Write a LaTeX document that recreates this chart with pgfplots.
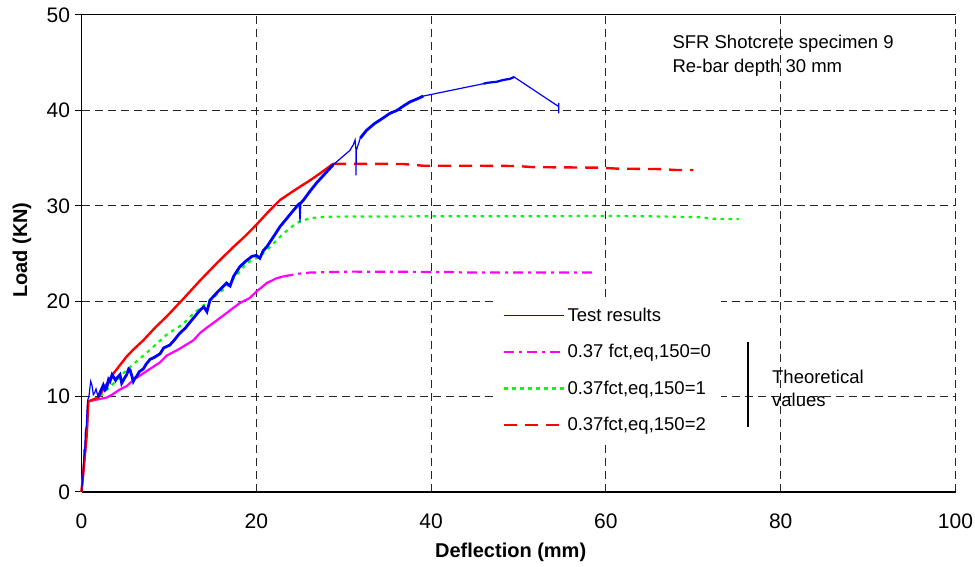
\documentclass[border=0pt]{standalone}
\usepackage{pgfplots}
\pgfplotsset{compat=1.18}
\usepackage{fontspec}
\setmainfont{Liberation Sans}
\definecolor{tblue}{RGB}{0,0,255}
\definecolor{tmag}{RGB}{255,0,255}
\definecolor{tgreen}{RGB}{0,255,0}
\definecolor{tred}{RGB}{255,0,0}
\begin{document}
\begin{tikzpicture}[x=1pt,y=1pt]
\useasboundingbox (0,0) rectangle (975,567);
\begin{axis}[
  at={(81.5pt,75pt)}, anchor=south west,
  scale only axis, width=874pt, height=477pt,
  xmin=0, xmax=100, ymin=0, ymax=50,
  xtick={0,20,...,100}, ytick={0,10,...,50},
  axis x line*=bottom, axis y line*=left,
  axis line style={line width=1.4pt, -},
  grid=major,
  major grid style={black!85, line width=1pt, dash pattern=on 8pt off 5pt},
  y tick style={black, line width=1pt},
  x tick style={draw=none},
  tick align=outside, major tick length=6pt,
  /pgf/number format/assume math mode=true,
  ticklabel style={font=\fontsize{21}{24}\selectfont},
  xticklabel style={yshift=-12pt},
  yticklabel style={xshift=-2pt},
  xlabel={Deflection (mm)}, ylabel={Load (KN)},
  label style={font=\bfseries\fontsize{20}{24}\selectfont},
  xlabel style={at={(axis description cs:0.491,-0.126)}, anchor=center},
  ylabel style={at={(axis description cs:-0.068,0.507)}, anchor=center, rotate=0},
  legend style={at={(axis cs:47.3,20.44)}, anchor=north west, draw=none, fill=white,
    font=\fontsize{18.5}{22}\selectfont, row sep=17.5pt, inner xsep=8pt, inner ysep=9pt},
  legend cell align=left,
  legend image code/.code={\draw[#1] (0pt,0pt) -- (60pt,0pt);},
  /tikz/every even column/.append style={column sep=9pt},
  clip=false,
]
% magenta (=0)
\addplot[tmag, line width=2.2pt, forget plot] coordinates {
(0,0) (0.3,3) (0.6,6.1) (0.78,9.5) (2.88,9.9) (3.5,10.2) (4.3,10.7) (5.17,11.1) (6.0,11.8) (7,12.4) (8.0,13.0) (9.0,13.6) (9.75,14.3) (11.2,15.0) (12.8,15.9) (13.6,16.7) (14.3,17.2) (15.5,18.0) (16.8,18.9) (18.1,19.8) (19.2,20.3) (20.0,21.0) (21.2,21.9) (22.3,22.4) (23.1,22.6)};
\addplot[tmag, line width=2.2pt, dash pattern=on 10pt off 5pt on 3pt off 5pt, forget plot] coordinates {
(23.1,22.6) (25,22.9) (26.1,23.0) (30.7,23.1) (42.2,23.06) (44,23.0) (58.6,23.0)};
% green (=1)
\addplot[tgreen, line width=2.2pt, dash pattern=on 3.5pt off 4.5pt, forget plot] coordinates {
(0,0) (0.3,3) (0.6,6.1) (0.78,9.5) (1.93,9.9) (3.26,11.0) (5.17,12.8) (7.84,14.9) (9.75,16.5) (11.6,17.6) (12.8,18.7) (14.7,20.1) (16.6,21.5) (17.8,22.8) (18.9,24.0) (20.4,24.7) (21.8,25.9) (23.1,27.1) (24.6,28.2) (26.1,28.7) (28.0,28.86) (40,28.9) (50,28.9) (59.7,28.93) (65,28.9) (71.1,28.8) (72,28.65) (75.2,28.6)};
% red (=2)
\addplot[tred, line width=2.4pt, forget plot] coordinates {
(0,0) (0.3,3) (0.6,6.1) (0.78,9.5) (1.93,9.9) (2.8,11.2) (3.64,12.4) (4.4,13.3) (5.17,14.2) (5.9,14.9) (7.07,15.9) (8.5,17.3) (9.75,18.4) (11.7,20.3) (13.6,22.2) (15.5,24.0) (17.4,25.7) (18.7,26.8) (20.0,28.0) (21.3,29.3) (22.7,30.6) (24.0,31.4) (25.0,32.0) (26.2,32.7) (27.3,33.4) (28.2,34.0) (28.8,34.4)};
\addplot[tred, line width=2.4pt, dash pattern=on 13pt off 8pt, forget plot] coordinates {
(28.8,34.4) (32,34.4) (36.8,34.38) (39.1,34.2) (45,34.2) (49.8,34.17) (51.7,34.05) (59,34.0) (61.2,33.9) (66,33.85) (68.1,33.75) (70.0,33.75)};
% test results
\addplot[tblue, line width=1.2pt, forget plot] coordinates {
(0,0) (0.2,2) (0.3,4.5) (0.35,3.8) (0.45,6.5) (0.55,6.8) (0.6,7.9) (0.7,9.6) (0.85,10.0) (1.05,11.6) (1.2,11.2) (1.35,10.2) (1.5,10.4) (1.66,10.8) (1.8,10.3) (1.93,10.0) (2.2,10.6) (2.5,11.2) (2.7,10.7) (2.88,10.9) (3.1,11.8) (3.26,11.6) (3.5,12.3) (3.64,12.1) (3.9,11.7) (4.1,12.0) (4.4,12.3) (4.6,11.4) (4.9,11.9) (5.17,12.3) (5.4,12.9) (5.55,12.8) (5.75,12.2) (5.93,11.6) (6.1,11.9) (6.3,12.1) (6.6,12.6) (7.07,12.9) (7.4,13.4) (7.84,13.9) (8.3,14.1) (9.0,14.5) (9.4,15.1) (10.1,15.4) (10.6,15.9) (11.2,16.6) (11.9,17.2) (12.6,18.0) (13.6,19.1) (14.0,19.4) (14.35,18.9) (14.7,20.1) (15.6,21.0) (16.6,21.9) (17.0,21.6) (17.4,22.6) (18.1,23.6) (18.8,24.2) (19.5,24.7) (20.0,24.8) (20.4,24.5) (20.8,25.3) (21.2,25.7) (22.0,26.8) (22.7,27.8) (23.6,28.8) (24.6,29.9) (24.9,30.2) (25.0,28.3) (25.1,30.3) (25.4,30.6) (26.2,31.6) (26.9,32.4) (27.7,33.2) (28.4,33.9) (28.8,34.3) (30.7,35.8) (31.1,36.4) (31.3,36.9) (31.4,35.9) (31.4,33.2) (31.45,35.8) (31.9,37.1) (32.6,37.9) (33.5,38.6) (34.5,39.2) (35.3,39.7) (36.1,40.0) (36.9,40.5) (37.6,40.9) (38.4,41.2) (39.1,41.5) (46.0,42.8) (46.5,42.9) (47.5,43.0) (48.3,43.2) (49.0,43.3) (49.5,43.5) (54.6,40.4) (54.6,40.8) (54.6,39.7)};
\addplot[tblue, line width=2.8pt, forget plot] coordinates {
(1.93,10.0) (2.2,10.6) (2.5,11.2) (2.7,10.7) (2.88,10.9) (3.1,11.8) (3.26,11.6) (3.5,12.3) (3.64,12.1) (3.9,11.7) (4.1,12.0) (4.4,12.3) (4.6,11.4) (4.9,11.9) (5.17,12.3) (5.4,12.9) (5.55,12.8) (5.75,12.2) (5.93,11.6) (6.1,11.9) (6.3,12.1) (6.6,12.6) (7.07,12.9) (7.4,13.4) (7.84,13.9) (8.3,14.1) (9.0,14.5) (9.4,15.1) (10.1,15.4) (10.6,15.9) (11.2,16.6) (11.9,17.2) (12.6,18.0) (13.6,19.1) (14.0,19.4) (14.35,18.9) (14.7,20.1) (15.6,21.0) (16.6,21.9) (17.0,21.6) (17.4,22.6) (18.1,23.6) (18.8,24.2) (19.5,24.7) (20.0,24.8) (20.4,24.5) (20.8,25.3) (21.2,25.7) (22.0,26.8) (22.7,27.8) (23.6,28.8) (24.6,29.9) (24.9,30.2) (25.1,30.3) (25.4,30.6) (26.2,31.6) (26.9,32.4) (27.7,33.2) (28.4,33.9) (28.8,34.3)};
\addplot[tblue, line width=2.8pt, forget plot] coordinates {
(31.9,37.1) (32.6,37.9) (33.5,38.6) (34.5,39.2) (35.3,39.7) (36.1,40.0) (36.9,40.5) (37.6,40.9) (38.4,41.2) (39.1,41.5)};
\addplot[tblue, line width=2.2pt, forget plot] coordinates {
(46.0,42.8) (46.5,42.9) (47.5,43.0) (48.3,43.2) (49.0,43.3) (49.5,43.5)};
% legend
\addlegendimage{tblue, line width=1.6pt}
\addlegendentry{Test results}
\addlegendimage{tmag, line width=2.4pt, dash pattern=on 10pt off 5pt on 3pt off 5pt}
\addlegendentry{0.37 fct,eq,150=0}
\addlegendimage{tgreen, line width=2.4pt, dash pattern=on 3.5pt off 4.5pt}
\addlegendentry{0.37fct,eq,150=1}
\addlegendimage{tred, line width=2.4pt, dash pattern=on 13pt off 8pt}
\addlegendentry{0.37fct,eq,150=2}
% top frame line
\draw[black, line width=1pt] (rel axis cs:0,1) -- (rel axis cs:1,1);
% bracket and note
\draw[black, line width=1.2pt] (axis cs:76.26,15.7) -- (axis cs:76.26,6.8);
\node[anchor=north west, align=left, inner sep=0pt, font=\fontsize{18.5}{23}\selectfont] at (axis cs:79.0,12.8) {Theoretical\\values};
\node[anchor=west, inner sep=0pt, font=\fontsize{18.5}{22}\selectfont] at (axis cs:67.6,47.0) {SFR Shotcrete specimen 9};
\node[anchor=west, inner sep=0pt, font=\fontsize{18.5}{22}\selectfont] at (axis cs:67.6,44.5) {Re-bar depth 30 mm};
\end{axis}
\end{tikzpicture}
\end{document}
